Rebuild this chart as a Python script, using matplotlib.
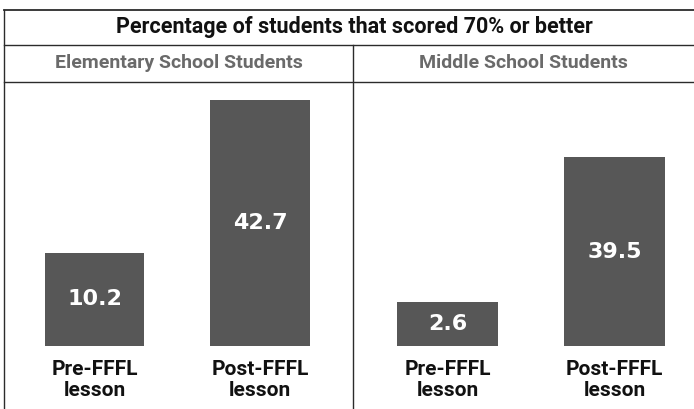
import matplotlib
matplotlib.use("Agg")
import matplotlib.pyplot as plt
from matplotlib.lines import Line2D

# chart data
title = "Percentage of students that scored 70% or better"
groups = ["Elementary School Students", "Middle School Students"]
categories = ["Pre-FFFL\nlesson", "Post-FFFL\nlesson"]
elementary = [10.2, 42.7]
middle = [2.6, 39.5]
values = [elementary, middle]

W, H = 694, 409
fig = plt.figure(figsize=(W / 100, H / 100), dpi=100)
fig.patch.set_facecolor("white")


def px(x, y):
    """pixel coords (origin top-left) -> figure fraction"""
    return x / W, 1 - y / H


def hline(y, x0, x1, lw=1.0):
    (a, b), (c, _) = px(x0, y), px(x1, y)
    fig.add_artist(Line2D([a, c], [b, b], color="#2b2b2b", lw=lw))


def vline(x, y0, y1, lw=1.0):
    (a, b), (_, d) = px(x, y0), px(x, y1)
    fig.add_artist(Line2D([a, a], [b, d], color="#2b2b2b", lw=lw))


# table frame
hline(10, 4, W, lw=1.3)
hline(45, 4, W)
hline(82, 4, W)
vline(4, 10, H)
vline(353, 45, H)

fx, fy = px(354, 27)
fig.text(fx, fy, title, ha="center", va="center", fontsize=15.5,
         fontweight="bold", family="Roboto", color="#111111")

# panel layout: (left px, right px, xlim, ylim)  -- bars are not drawn to a common scale
panels = [
    (4, 353, (-0.547, 1.562), (-9.55, 46.5)),
    (353, 694, (-0.566, 1.476), (-8.6, 58.6)),
]
bar_top, bar_bottom = 82, 346

for (x0, x1, xl, yl), name, vals in zip(panels, groups, values):
    cx, cy = px((x0 + x1) / 2, 63)
    fig.text(cx, cy, name, ha="center", va="center", fontsize=14,
             fontweight="bold", family="Roboto", color="#6a6a6a")

    l, b = px(x0, bar_bottom)
    _, t = px(x1, bar_top)
    ax = fig.add_axes([l, b, (x1 - x0) / W, t - b])
    ax.set_xlim(*xl)
    ax.set_ylim(*yl)
    pos = range(len(vals))
    base = yl[0]
    ax.bar(pos, [v - base for v in vals], bottom=base, width=0.6,
           color="#575757", edgecolor="none")
    for p, v in zip(pos, vals):
        ax.text(p, (v + base) / 2, f"{v}", ha="center", va="center",
                fontsize=16, fontweight="bold", color="white",
                family="DejaVu Sans")
    ax.set_xticks(list(pos))
    ax.set_xticklabels(categories, fontsize=15, fontweight="bold",
                       family="Roboto", linespacing=1.15, color="#111111")
    ax.tick_params(axis="x", length=0, pad=10)
    ax.set_yticks([])
    for s in ax.spines.values():
        s.set_visible(False)
    ax.patch.set_alpha(0)

fig.savefig("out.png", dpi=100, facecolor="white")
